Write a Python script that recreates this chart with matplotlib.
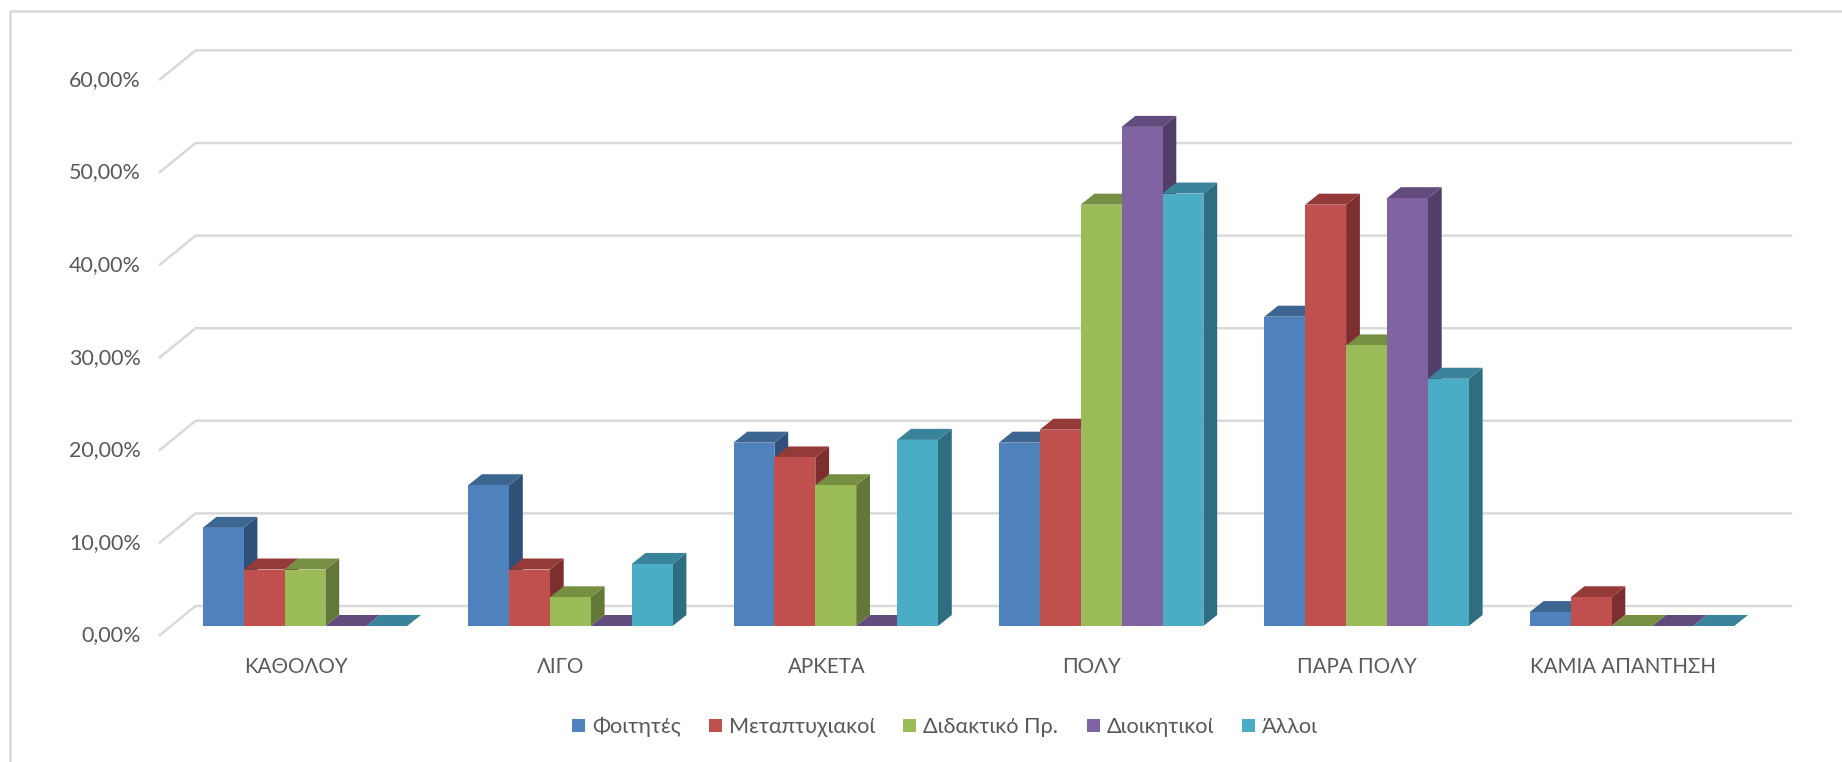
import matplotlib
matplotlib.use("Agg")
import matplotlib.pyplot as plt
from matplotlib.patches import Polygon, Rectangle
from matplotlib.transforms import ScaledTranslation

plt.rcParams['font.family'] = ['Lato', 'Open Sans', 'DejaVu Sans']

categories = ["ΚΑΘΟΛΟΥ", "ΛΙΓΟ", "ΑΡΚΕΤΑ", "ΠΟΛΥ", "ΠΑΡΑ ΠΟΛΥ", "ΚΑΜΙΑ ΑΠΑΝΤΗΣΗ"]
series_names = ["Φοιτητές", "Μεταπτυχιακοί", "Διδακτικό Πρ.", "Διοικητικοί", "Άλλοι"]
foitites = [10.6, 15.2, 19.8, 19.8, 33.4, 1.5]
metaptychiakoi = [6.1, 6.1, 18.2, 21.2, 45.5, 3.1]
didaktiko = [6.1, 3.1, 15.2, 45.5, 30.3, 0.0]
dioikitikoi = [0.0, 0.0, 0.0, 53.9, 46.2, 0.0]
alloi = [0.0, 6.7, 20.1, 46.7, 26.7, 0.0]
series_values = [foitites, metaptychiakoi, didaktiko, dioikitikoi, alloi]
y_ticks = [0, 10, 20, 30, 40, 50, 60]
y_tick_labels = ["0,00%", "10,00%", "20,00%", "30,00%", "40,00%", "50,00%", "60,00%"]

front = ["#4F81BD", "#C0504D", "#9BBB59", "#8064A2", "#4BACC6"]
top = ["#3D6591", "#943A38", "#768F43", "#624C7D", "#39849A"]
side = ["#2F5078", "#7C2F2E", "#637739", "#523F68", "#2F6E80"]
text_color = "#595959"
grid_color = "#D9D9D9"

W, H = 1842, 762
fig = plt.figure(figsize=(W / 100, H / 100), dpi=100, facecolor="white")

# Frame of the chart area, in figure pixels: left and top edges only are in view
fig.add_artist(plt.Line2D([10, 10, W], [0, H - 11, H - 11], transform=None,
                          color="#D9D9D9", lw=1.8))

# Axes: x is category index, y is the value. y=0 on the front floor of the bars.
PX_PER_UNIT = 9.26
GROUP = 265.4
BAR = 40.9
x0_px = 202.7 + 2.5 * BAR          # centre of first group
base_px = 626
left_px, right_px = 160, 1791
top_px = 40
ax = fig.add_axes([left_px / W, (H - base_px) / H, (right_px - left_px) / W, (base_px - top_px) / H])
ax.set_xlim((left_px - x0_px) / GROUP, (right_px - x0_px) / GROUP)
ax.set_ylim(0, (base_px - top_px) / PX_PER_UNIT)
ax.patch.set_visible(False)
for s in ax.spines.values():
    s.set_visible(False)

bar_w = BAR / GROUP
dx = 13.8 / GROUP        # bar depth in x units
dy = 11.0 / PX_PER_UNIT  # bar depth in y units

# Walls: gridlines behind the bars with a diagonal on the floor to the front
back_dy = 20 / PX_PER_UNIT
front_dy = -9 / PX_PER_UNIT
gx0 = ax.get_xlim()[0]
back_dx = 35.6 / GROUP
for t in y_ticks:
    ax.plot([gx0, gx0 + back_dx, ax.get_xlim()[1]],
            [t + front_dy, t + back_dy, t + back_dy],
            color=grid_color, lw=1.8, clip_on=False, zorder=1, solid_joinstyle="miter")

for i in range(len(categories)):
    for j, vals in enumerate(series_values):
        v = vals[i]
        xl = i + (j - 2.5) * bar_w
        xr = xl + bar_w
        z = 3 + j * 0.01
        ax.add_patch(Polygon([(xr, 0), (xr + dx, dy), (xr + dx, v + dy), (xr, v)],
                             fc=side[j], ec="none", zorder=z, clip_on=False))
        ax.add_patch(Polygon([(xl, v), (xl + dx, v + dy), (xr + dx, v + dy), (xr, v)],
                             fc=top[j], ec="none", zorder=z, clip_on=False))
        ax.add_patch(Rectangle((xl, 0), bar_w, v, fc=front[j], ec="none", zorder=z, clip_on=False))

# Axis labels as real ticks
ax.set_yticks(y_ticks)
ax.set_yticklabels(y_tick_labels, fontsize=15.5, color=text_color)
ax.set_xticks(range(len(categories)))
ax.set_xticklabels(categories, fontsize=14.8, color=text_color)
ax.tick_params(axis="both", length=0)
ax.tick_params(axis="y", pad=14)
ax.tick_params(axis="x", pad=22)
shift_y = ScaledTranslation(0, -7.5 / 100, fig.dpi_scale_trans)
for lab in ax.get_yticklabels():
    lab.set_transform(lab.get_transform() + shift_y)
shift_x = ScaledTranslation(-9.4 / 100, 0, fig.dpi_scale_trans)
for lab in ax.get_xticklabels():
    lab.set_transform(lab.get_transform() + shift_x)

# Legend
handles = [Rectangle((0, 0), 1, 1, fc=c, ec="none") for c in front]
fig.legend(handles, series_names, loc="center", bbox_to_anchor=(945 / W, (H - 727) / H),
           ncol=5, frameon=False, fontsize=15.6, labelcolor=text_color,
           handlelength=0.6, handleheight=0.6, handletextpad=0.33, columnspacing=1.3)

fig.savefig("out.png", dpi=100, facecolor="white")
